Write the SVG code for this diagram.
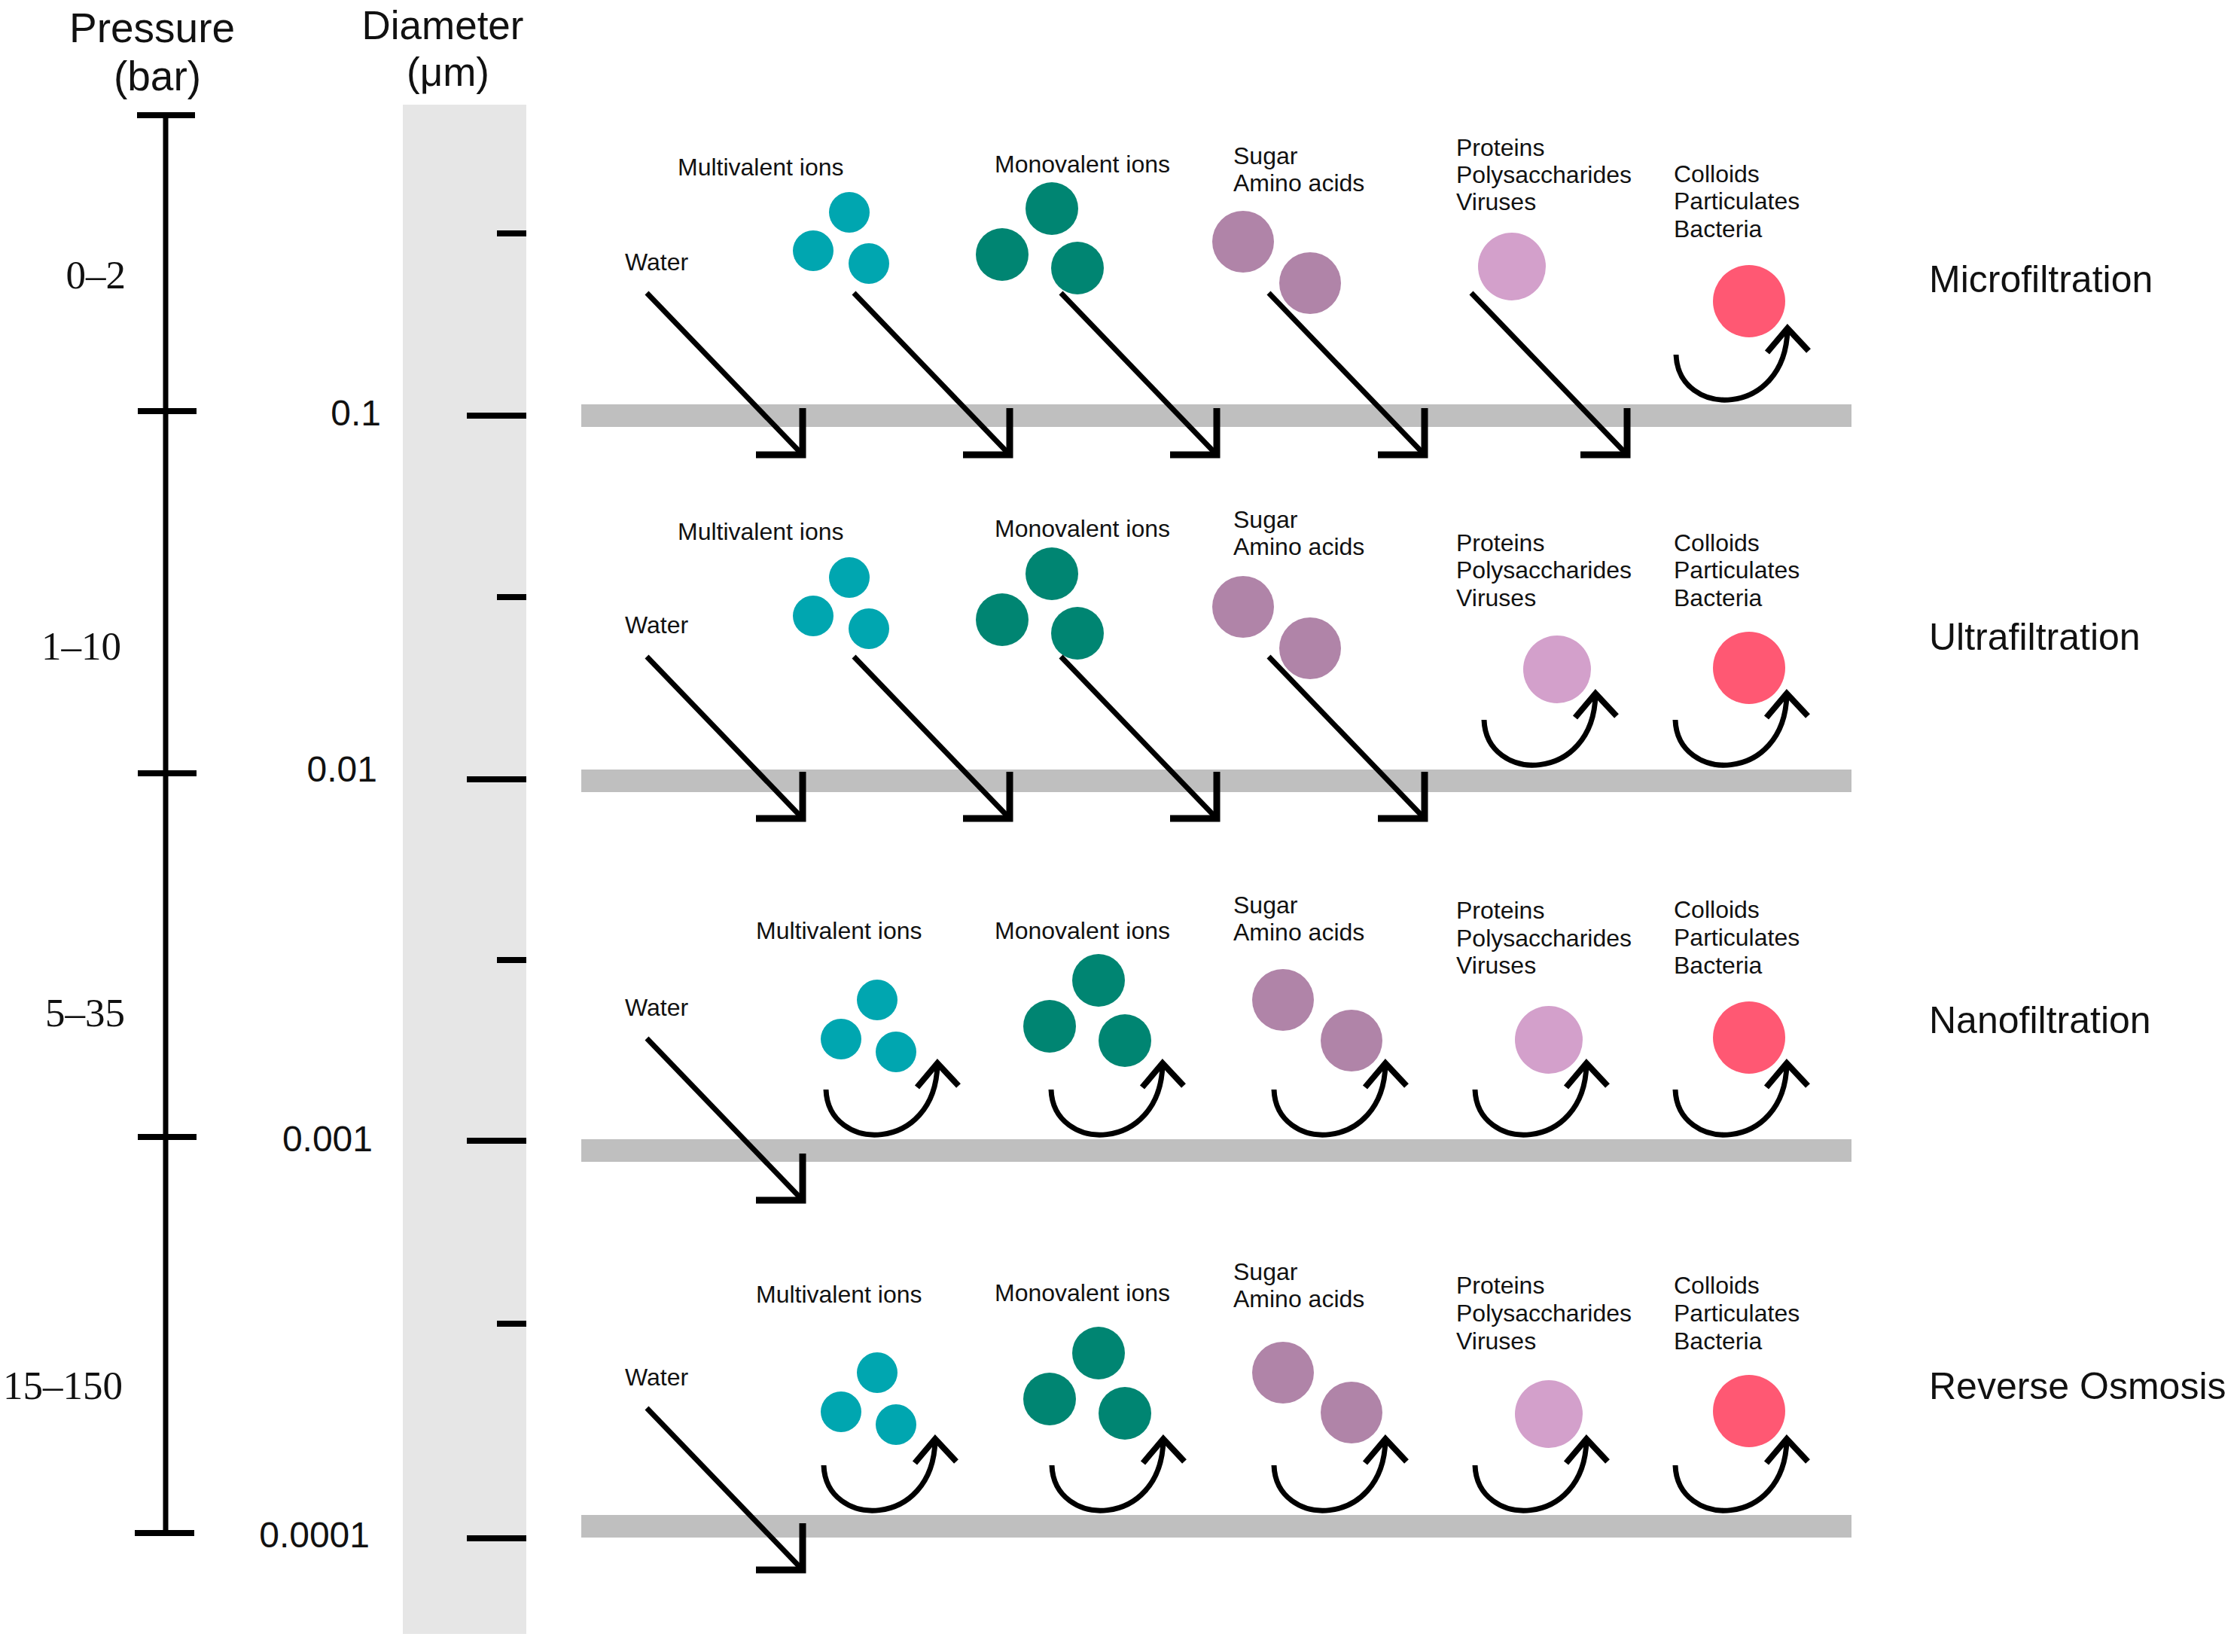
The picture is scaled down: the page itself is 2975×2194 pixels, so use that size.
<svg xmlns="http://www.w3.org/2000/svg" xmlns:xlink="http://www.w3.org/1999/xlink" width="2975" height="2194" viewBox="0 0 2975 2194">
<style>
.lbl{font-family:"Liberation Sans",Arial,sans-serif;font-size:32px;fill:#111}
.proc{font-family:"Liberation Sans",Arial,sans-serif;font-size:50px;fill:#111}
.title{font-family:"Liberation Sans",Arial,sans-serif;font-size:53px;fill:#111;text-anchor:middle}
.num{font-family:"Liberation Sans",Arial,sans-serif;font-size:48px;fill:#111;text-anchor:end}
.pr{font-family:"Liberation Serif","Times New Roman",serif;font-size:53px;fill:#111;text-anchor:end}
.ax{stroke:#000;stroke-width:7;fill:none}
.tk{stroke:#000;stroke-width:8;fill:none}
.mem{fill:#bfbfbf}
.ln{stroke:#000;stroke-width:7;fill:none}
.hd{stroke:#000;stroke-width:9;fill:none;stroke-linejoin:miter}
.multi{fill:#00a6b0}
.mono{fill:#008572}
.sugar{fill:#b084a8}
.prot{fill:#d3a0cb}
.coll{fill:#ff5873}
</style>
<defs>
<g id="thru"><path class="ln" d="M0,0 L207,215"/><polyline class="hd" points="207,153 207,215 145,215"/></g>
<g id="uturn"><path class="ln" d="M0,-60 C3,25 145,25 148,-93"/><polyline class="hd" style="stroke-width:8" points="121,-63 148,-95 176,-65"/></g>
</defs>
<rect width="2975" height="2194" fill="#fff"/>

<g id="pressure-axis">
<text class="title" x="202" y="56" style="font-size:55px">Pressure</text>
<text class="title" x="209" y="120" style="font-size:55px">(bar)</text>
<line class="ax" x1="220" y1="153" x2="220" y2="2036"/>
<line class="tk" x1="182" y1="153" x2="259" y2="153"/>
<line class="tk" x1="183" y1="546" x2="261" y2="546"/>
<line class="tk" x1="183" y1="1027" x2="261" y2="1027"/>
<line class="tk" x1="183" y1="1510" x2="261" y2="1510"/>
<line class="tk" x1="179" y1="2036" x2="258" y2="2036"/>
<text class="pr" x="167" y="383">0–2</text>
<text class="pr" x="161" y="876">1–10</text>
<text class="pr" x="166" y="1363">5–35</text>
<text class="pr" x="163" y="1858">15–150</text>
</g>

<g id="diameter-axis">
<text class="title" x="588" y="52">Diameter</text>
<text class="title" x="595" y="114">(μm)</text>
<rect x="535" y="139" width="164" height="2031" fill="#e6e6e6"/>
<line class="tk" x1="660" y1="310" x2="699" y2="310"/>
<line class="tk" x1="660" y1="793" x2="699" y2="793"/>
<line class="tk" x1="660" y1="1275" x2="699" y2="1275"/>
<line class="tk" x1="660" y1="1758" x2="699" y2="1758"/>
<line class="tk" x1="620" y1="552" x2="699" y2="552"/>
<line class="tk" x1="620" y1="1035" x2="699" y2="1035"/>
<line class="tk" x1="620" y1="1515" x2="699" y2="1515"/>
<line class="tk" x1="620" y1="2043" x2="699" y2="2043"/>
<text class="num" x="506" y="565">0.1</text>
<text class="num" x="501" y="1038">0.01</text>
<text class="num" x="495" y="1529">0.001</text>
<text class="num" x="491" y="2055">0.0001</text>
</g>

<g id="membranes">
<rect class="mem" x="772" y="537" width="1687" height="30"/>
<rect class="mem" x="772" y="1022" width="1687" height="30"/>
<rect class="mem" x="772" y="1513" width="1687" height="30"/>
<rect class="mem" x="772" y="2012" width="1687" height="30"/>
</g>

<!-- Row 1: Microfiltration -->
<g id="mf-water"><text class="lbl" x="830" y="359">Water</text></g>
<g id="mf-multi"><text class="lbl" x="900" y="233">Multivalent ions</text>
<circle class="multi" cx="1128" cy="282" r="27"/><circle class="multi" cx="1080" cy="333" r="27"/><circle class="multi" cx="1154" cy="350" r="27"/></g>
<g id="mf-mono"><text class="lbl" x="1321" y="229">Monovalent ions</text>
<circle class="mono" cx="1397" cy="277" r="35"/><circle class="mono" cx="1331" cy="338" r="35"/><circle class="mono" cx="1431" cy="356" r="35"/></g>
<g id="mf-sugar"><text class="lbl" x="1638" y="218">Sugar</text><text class="lbl" x="1638" y="254">Amino acids</text>
<circle class="sugar" cx="1651" cy="321" r="41"/><circle class="sugar" cx="1740" cy="376" r="41"/></g>
<g id="mf-prot"><text class="lbl" x="1934" y="207">Proteins</text><text class="lbl" x="1934" y="243">Polysaccharides</text><text class="lbl" x="1934" y="279">Viruses</text>
<circle class="prot" cx="2008" cy="354" r="45"/></g>
<g id="mf-coll"><text class="lbl" x="2223" y="242">Colloids</text><text class="lbl" x="2223" y="278">Particulates</text><text class="lbl" x="2223" y="315">Bacteria</text>
<circle class="coll" cx="2323" cy="400" r="48"/></g>
<g id="mf-label"><text class="proc" x="2562" y="388">Microfiltration</text></g>

<!-- Row 2: Ultrafiltration -->
<g id="uf-water"><text class="lbl" x="830" y="841">Water</text></g>
<g id="uf-multi"><text class="lbl" x="900" y="717">Multivalent ions</text>
<circle class="multi" cx="1128" cy="767" r="27"/><circle class="multi" cx="1080" cy="818" r="27"/><circle class="multi" cx="1154" cy="835" r="27"/></g>
<g id="uf-mono"><text class="lbl" x="1321" y="713">Monovalent ions</text>
<circle class="mono" cx="1397" cy="762" r="35"/><circle class="mono" cx="1331" cy="823" r="35"/><circle class="mono" cx="1431" cy="841" r="35"/></g>
<g id="uf-sugar"><text class="lbl" x="1638" y="701">Sugar</text><text class="lbl" x="1638" y="737">Amino acids</text>
<circle class="sugar" cx="1651" cy="806" r="41"/><circle class="sugar" cx="1740" cy="861" r="41"/></g>
<g id="uf-prot"><text class="lbl" x="1934" y="732">Proteins</text><text class="lbl" x="1934" y="768">Polysaccharides</text><text class="lbl" x="1934" y="805">Viruses</text>
<circle class="prot" cx="2068" cy="889" r="45"/></g>
<g id="uf-coll"><text class="lbl" x="2223" y="732">Colloids</text><text class="lbl" x="2223" y="768">Particulates</text><text class="lbl" x="2223" y="805">Bacteria</text>
<circle class="coll" cx="2323" cy="887" r="48"/></g>
<g id="uf-label"><text class="proc" x="2562" y="863">Ultrafiltration</text></g>

<!-- Row 3: Nanofiltration -->
<g id="nf-water"><text class="lbl" x="830" y="1349">Water</text></g>
<g id="nf-multi"><text class="lbl" x="1004" y="1247">Multivalent ions</text>
<circle class="multi" cx="1165" cy="1328" r="27"/><circle class="multi" cx="1117" cy="1380" r="27"/><circle class="multi" cx="1190" cy="1397" r="27"/></g>
<g id="nf-mono"><text class="lbl" x="1321" y="1247">Monovalent ions</text>
<circle class="mono" cx="1459" cy="1302" r="35"/><circle class="mono" cx="1394" cy="1363" r="35"/><circle class="mono" cx="1494" cy="1382" r="35"/></g>
<g id="nf-sugar"><text class="lbl" x="1638" y="1213">Sugar</text><text class="lbl" x="1638" y="1249">Amino acids</text>
<circle class="sugar" cx="1704" cy="1328" r="41"/><circle class="sugar" cx="1795" cy="1382" r="41"/></g>
<g id="nf-prot"><text class="lbl" x="1934" y="1220">Proteins</text><text class="lbl" x="1934" y="1257">Polysaccharides</text><text class="lbl" x="1934" y="1293">Viruses</text>
<circle class="prot" cx="2057" cy="1381" r="45"/></g>
<g id="nf-coll"><text class="lbl" x="2223" y="1219">Colloids</text><text class="lbl" x="2223" y="1256">Particulates</text><text class="lbl" x="2223" y="1293">Bacteria</text>
<circle class="coll" cx="2323" cy="1378" r="48"/></g>
<g id="nf-label"><text class="proc" x="2562" y="1372">Nanofiltration</text></g>

<!-- Row 4: Reverse Osmosis -->
<g id="ro-water"><text class="lbl" x="830" y="1840">Water</text></g>
<g id="ro-multi"><text class="lbl" x="1004" y="1730">Multivalent ions</text>
<circle class="multi" cx="1165" cy="1823" r="27"/><circle class="multi" cx="1117" cy="1875" r="27"/><circle class="multi" cx="1190" cy="1892" r="27"/></g>
<g id="ro-mono"><text class="lbl" x="1321" y="1728">Monovalent ions</text>
<circle class="mono" cx="1459" cy="1797" r="35"/><circle class="mono" cx="1394" cy="1858" r="35"/><circle class="mono" cx="1494" cy="1877" r="35"/></g>
<g id="ro-sugar"><text class="lbl" x="1638" y="1700">Sugar</text><text class="lbl" x="1638" y="1736">Amino acids</text>
<circle class="sugar" cx="1704" cy="1823" r="41"/><circle class="sugar" cx="1795" cy="1876" r="41"/></g>
<g id="ro-prot"><text class="lbl" x="1934" y="1718">Proteins</text><text class="lbl" x="1934" y="1755">Polysaccharides</text><text class="lbl" x="1934" y="1792">Viruses</text>
<circle class="prot" cx="2057" cy="1878" r="45"/></g>
<g id="ro-coll"><text class="lbl" x="2223" y="1718">Colloids</text><text class="lbl" x="2223" y="1755">Particulates</text><text class="lbl" x="2223" y="1792">Bacteria</text>
<circle class="coll" cx="2323" cy="1874" r="48"/></g>
<g id="ro-label"><text class="proc" x="2562" y="1858">Reverse Osmosis</text></g>

<g id="connectors">
<use xlink:href="#thru" x="859" y="389"/>
<use xlink:href="#thru" x="1134" y="389"/>
<use xlink:href="#thru" x="1409" y="389"/>
<use xlink:href="#thru" x="1685" y="389"/>
<use xlink:href="#thru" x="1954" y="389"/>
<use xlink:href="#uturn" x="2226" y="531"/>

<use xlink:href="#thru" x="859" y="872"/>
<use xlink:href="#thru" x="1134" y="872"/>
<use xlink:href="#thru" x="1409" y="872"/>
<use xlink:href="#thru" x="1685" y="872"/>
<use xlink:href="#uturn" x="1971" y="1016"/>
<use xlink:href="#uturn" x="2225" y="1016"/>

<use xlink:href="#thru" x="859" y="1379"/>
<use xlink:href="#uturn" x="1097" y="1507"/>
<use xlink:href="#uturn" x="1396" y="1507"/>
<use xlink:href="#uturn" x="1692" y="1507"/>
<use xlink:href="#uturn" x="1959" y="1507"/>
<use xlink:href="#uturn" x="2225" y="1507"/>

<use xlink:href="#thru" x="859" y="1870"/>
<use xlink:href="#uturn" x="1094" y="2006"/>
<use xlink:href="#uturn" x="1397" y="2006"/>
<use xlink:href="#uturn" x="1692" y="2006"/>
<use xlink:href="#uturn" x="1959" y="2006"/>
<use xlink:href="#uturn" x="2225" y="2006"/>
</g>
</svg>
